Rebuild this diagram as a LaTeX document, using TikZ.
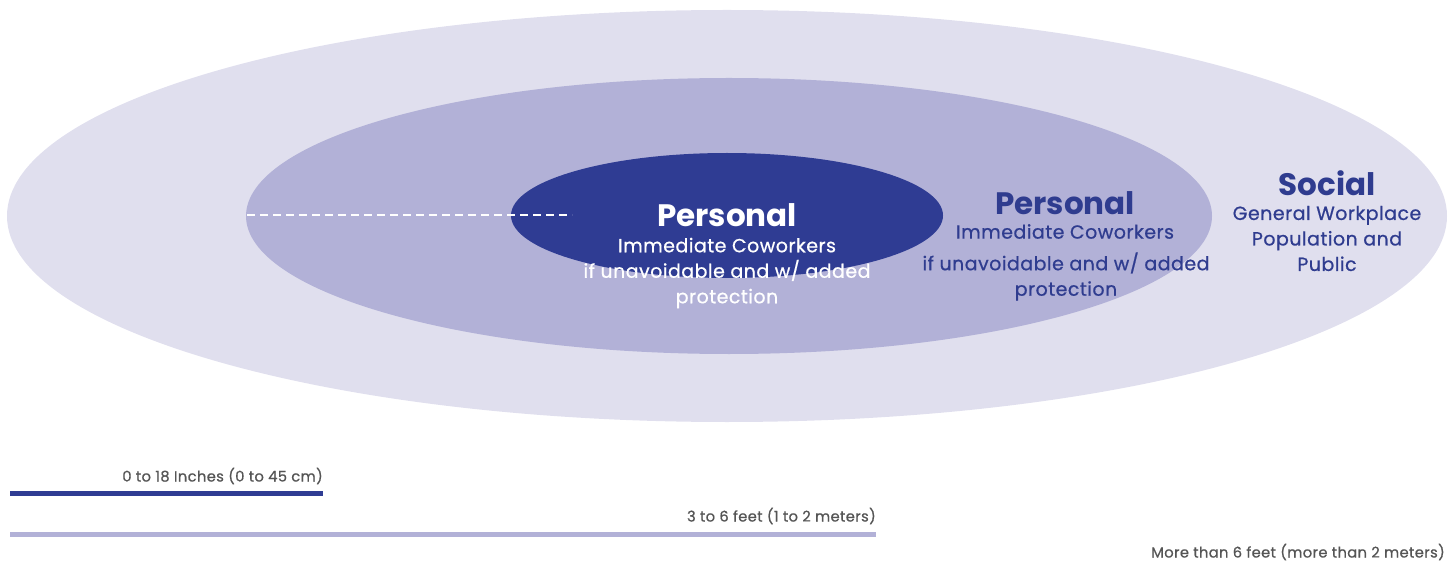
\documentclass[tikz,border=0pt]{standalone}
\usepackage{fontspec}
\setmainfont{Poppins}
\newfontfamily\medfont{Poppins}[FakeBold=0.7, LetterSpace=2.5]
\definecolor{outerc}{HTML}{E0DFEE}
\definecolor{midc}{HTML}{B2B1D7}
\definecolor{innerc}{HTML}{2F3C93}
\definecolor{navy}{HTML}{2F3C8F}
\definecolor{greyt}{HTML}{555555}
\begin{document}
\begin{tikzpicture}[x=1pt,y=-1pt,
  title/.style={font=\fontsize{31}{34}\selectfont\bfseries, inner sep=0pt},
  body/.style={font=\medfont\fontsize{19}{25.5}\selectfont, align=center, inner sep=0pt},
  scale label/.style={font=\medfont\fontsize{14.7}{17}\selectfont, text=greyt, inner sep=0pt, anchor=east},
  bar/.style={line width=5pt}]
\useasboundingbox (0,0) rectangle (1453,569);
\fill[outerc] (727,216) ellipse [x radius=720pt, y radius=206pt];
\fill[midc] (729,216) ellipse [x radius=483pt, y radius=138pt];
\fill[innerc] (727,215.5) ellipse [x radius=216pt, y radius=62.5pt];
\coordinate (d1) at (247,215);
\coordinate (d2) at (572,215);
\draw[white, line width=2pt, dash pattern=on 8pt off 5pt] (d1) -- (d2);
% inner
\node[title, text=white] (t1) at (727,215) {Personal};
\node[body, text=white] (b1) at (727,273) {Immediate Coworkers\\if unavoidable and w/ added\\protection};
% middle
\node[title, text=navy] (t2) at (1065,203) {Personal};
\node[body, text=navy] (b2a) at (1065,231.5) {Immediate Coworkers};
\node[body, text=navy] (b2b) at (1066,276.5) {if unavoidable and w/ added\\protection};
% outer
\node[title, text=navy] (t3) at (1327,183.5) {Social};
\node[body, text=navy] (b3) at (1327,238.5) {General Workplace\\Population and\\Public};
% scale bars
\coordinate (a1) at (10,493);
\coordinate (a2) at (323,493);
\draw[bar, innerc] (a1) -- (a2);
\node[scale label] (l1) at (323,476) {0 to 18 Inches (0 to 45 cm)};
\coordinate (c1) at (10,534);
\coordinate (c2) at (876,534);
\draw[bar, midc] (c1) -- (c2);
\node[scale label] (l2) at (876,516) {3 to 6 feet (1 to 2 meters)};
\node[scale label] (l3) at (1445,552) {More than 6 feet (more than 2 meters)};
\end{tikzpicture}
\end{document}
